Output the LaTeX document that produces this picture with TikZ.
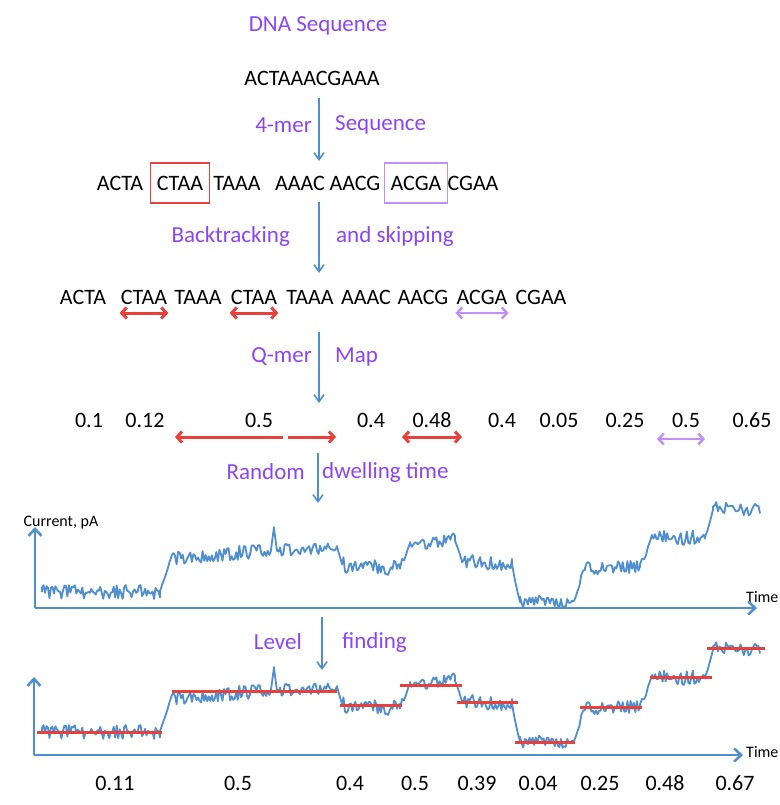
\documentclass[tikz,border=0pt]{standalone}
\usepackage{fontspec}
\setmainfont{Carlito}
\usetikzlibrary{arrows.meta, positioning}

\definecolor{flowblue}{HTML}{4F8FD0}
\definecolor{labelpurple}{HTML}{8A45F8}
\definecolor{markred}{HTML}{E8413C}
\definecolor{lightpurple}{HTML}{C28EF7}

% noisy current trace, drawn in the coordinates of the lower panel
\newcommand{\dwelltrace}[1]{%
	\pgfmathsetseed{17}
	\begin{scope}[yshift=#1]
		\draw[trace] (42,732) \foreach \xa/\xb/\ya/\yb/\amp/\n in {
			42/160/732/732/7/80, 160/172/732/694/3/6, 172/250/698/692/7/52,
			250/271/691/690/6/14, 271/274/690/668/1/2, 274/277/668/690/1/2,
			277/337/689/688/7/40, 337/342/688/705/2/3, 342/400/705/708/8/40,
			400/410/706/685/3/6, 410/455/686/679/6/30, 455/462/679/702/2/4,
			462/512/701/705/7/34, 512/520/705/742/2/4, 520/572/742/742/7/34,
			572/585/742/710/5/8, 585/640/708/706/7/36, 640/652/706/678/4/7,
			652/705/679/676/8/36, 705/713/676/649/3/4, 713/760/648/650/6/30}
			{ -- plot[domain=\xa:\xb, samples=\n] (\x,{\ya+(\yb-\ya)*(\x-\xa)/(\xb-\xa)+\amp*rand}) };
	\end{scope}}

\begin{document}
\begin{tikzpicture}[x=1pt, y=-1pt]
	% Define styles
	\tikzset{
		seq/.style={inner sep=1pt, font=\fontsize{22}{24}\selectfont},
		stage/.style={text=labelpurple, inner sep=0pt, font=\fontsize{23}{25}\selectfont},
		boxed/.style={seq, inner xsep=6pt, minimum height=40pt, line width=1.2pt},
		flow/.style={draw=flowblue, line width=1.6pt, -{Straight Barb[length=7pt, width=10pt]}},
		axisline/.style={draw=flowblue, line width=2.5pt, -{Straight Barb[length=7pt, width=13pt]}},
		trace/.style={draw=flowblue, line width=1.8pt, line join=round},
		backarr/.style={draw=markred, line width=3pt, {Straight Barb[length=5pt, width=11pt]}-{Straight Barb[length=5pt, width=11pt]}},
		skiparr/.style={backarr, draw=lightpurple, line width=2.5pt},
		lvlline/.style={draw=markred, line width=3pt},
		axlabel/.style={inner sep=0pt, font=\fontsize{16}{18}\selectfont}
	}
	\useasboundingbox (0,0) rectangle (779,805);

	% Nodes
	\node[stage] (dna) at (318,26) {DNA Sequence};
	\node[seq] (raw) at (312,78) {ACTAAACGAAA};

	\node[stage, anchor=east] (kmer) at (312,125) {4-mer};
	\node[stage, anchor=west] (kseq) at (335,125) {Sequence};

	\node[seq] (m1) at (120,183) {ACTA};
	\node[boxed, draw=markred] (m2) at (180,183) {CTAA};
	\node[seq] (m3) at (237,183) {TAAA};
	\node[seq] (m4) at (300,183) {AAAC};
	\node[seq] (m5) at (355,183) {AACG};
	\node[boxed, draw=lightpurple] (m6) at (416,183) {ACGA};
	\node[seq] (m7) at (473,183) {CGAA};

	\node[stage, anchor=east] (back) at (290,236) {Backtracking};
	\node[stage, anchor=west] (skip) at (336,236) {and skipping};

	\node[seq] (r1) at (83,297) {ACTA};
	\node[seq] (r2) at (144,297) {CTAA};
	\node[seq] (r3) at (198,297) {TAAA};
	\node[seq] (r4) at (254,297) {CTAA};
	\node[seq] (r5) at (310,297) {TAAA};
	\node[seq] (r6) at (366,297) {AAAC};
	\node[seq] (r7) at (423,297) {AACG};
	\node[seq] (r8) at (482,297) {ACGA};
	\node[seq] (r9) at (541,297) {CGAA};

	\node[stage, anchor=east] (qmer) at (312,357) {Q-mer};
	\node[stage, anchor=west] (map) at (335,357) {Map};

	\foreach \v/\px [count=\i] in {0.1/89, 0.12/145, 0.5/259, 0.4/371, 0.48/432,
		0.4/502, 0.05/559, 0.25/625, 0.5/686, 0.65/752}
		\node[seq] (q\i) at (\px,420) {\v};

	\node[stage, anchor=east] (rand) at (305,472) {Random};
	\node[stage, anchor=west] (dwell) at (322,472) {dwelling time};

	\node[axlabel] (cur) at (61,523) {Current, pA};
	\node[axlabel, anchor=west] (time1) at (746,597) {Time};

	\node[stage, anchor=east] (lev) at (302,642) {Level};
	\node[stage, anchor=west] (find) at (342,642) {finding};

	\node[axlabel, anchor=west] (time2) at (746,752) {Time};

	\foreach \v/\px [count=\i] in {0.11/115, 0.5/238, 0.4/350, 0.5/415, 0.39/477,
		0.04/538, 0.25/600, 0.48/665, 0.67/735}
		\node[seq] (d\i) at (\px,783) {\v};

	% Arrow ends and axes
	\coordinate (f1a) at (319,98);  \coordinate (f1b) at (319,161);
	\coordinate (f2a) at (319,202); \coordinate (f2b) at (319,273);
	\coordinate (f3a) at (319,332); \coordinate (f3b) at (319,403);
	\coordinate (f4a) at (318,453); \coordinate (f4b) at (318,503);
	\coordinate (f5a) at (322,617); \coordinate (f5b) at (322,670);
	\coordinate (o1) at (35,608);  \coordinate (y1) at (35,527);  \coordinate (x1) at (757,608);
	\coordinate (o2) at (34,755);  \coordinate (y2) at (34,677);  \coordinate (x2) at (743,755);
	\coordinate (ba) at (175,437); \coordinate (bb) at (283,437);
	\coordinate (bc) at (288,437); \coordinate (bd) at (336,437);
	\coordinate (be) at (402,437); \coordinate (bf) at (462,437);
	\coordinate (sa) at (657,439); \coordinate (sb) at (705,439);

	% Arrows
	\draw[flow] (f1a) -- (f1b);
	\draw[flow] (f2a) -- (f2b);
	\draw[flow] (f3a) -- (f3b);
	\draw[flow] (f4a) -- (f4b);
	\draw[flow] (f5a) -- (f5b);

	\draw[backarr] ([yshift=-16pt]r2.west) -- ([yshift=-16pt]r2.east);
	\draw[backarr] ([yshift=-16pt]r4.west) -- ([yshift=-16pt]r4.east);
	\draw[skiparr] ([yshift=-16pt]r8.west) -- ([yshift=-16pt]r8.east);

	\draw[backarr, {Straight Barb[length=5pt, width=11pt]}-] (ba) -- (bb);
	\draw[backarr, -{Straight Barb[length=5pt, width=11pt]}] (bc) -- (bd);
	\draw[backarr] (be) -- (bf);
	\draw[skiparr] (sa) -- (sb);

	% Raw current
	\dwelltrace{140pt}
	\draw[axisline] (o1) -- (y1);
	\draw[axisline] (o1) -- (x1);

	% Fitted levels
	\dwelltrace{0pt}
	\draw[axisline] (o2) -- (y2);
	\draw[axisline] (o2) -- (x2);
	\foreach \xa/\xb/\yl in {37/162/732, 172/337/691, 340/402/705, 400/462/685,
		457/518/702, 515/575/742, 580/642/707, 650/712/677, 707/765/648}
		\draw[lvlline] (\xa,\yl) -- (\xb,\yl);

\end{tikzpicture}
\end{document}
